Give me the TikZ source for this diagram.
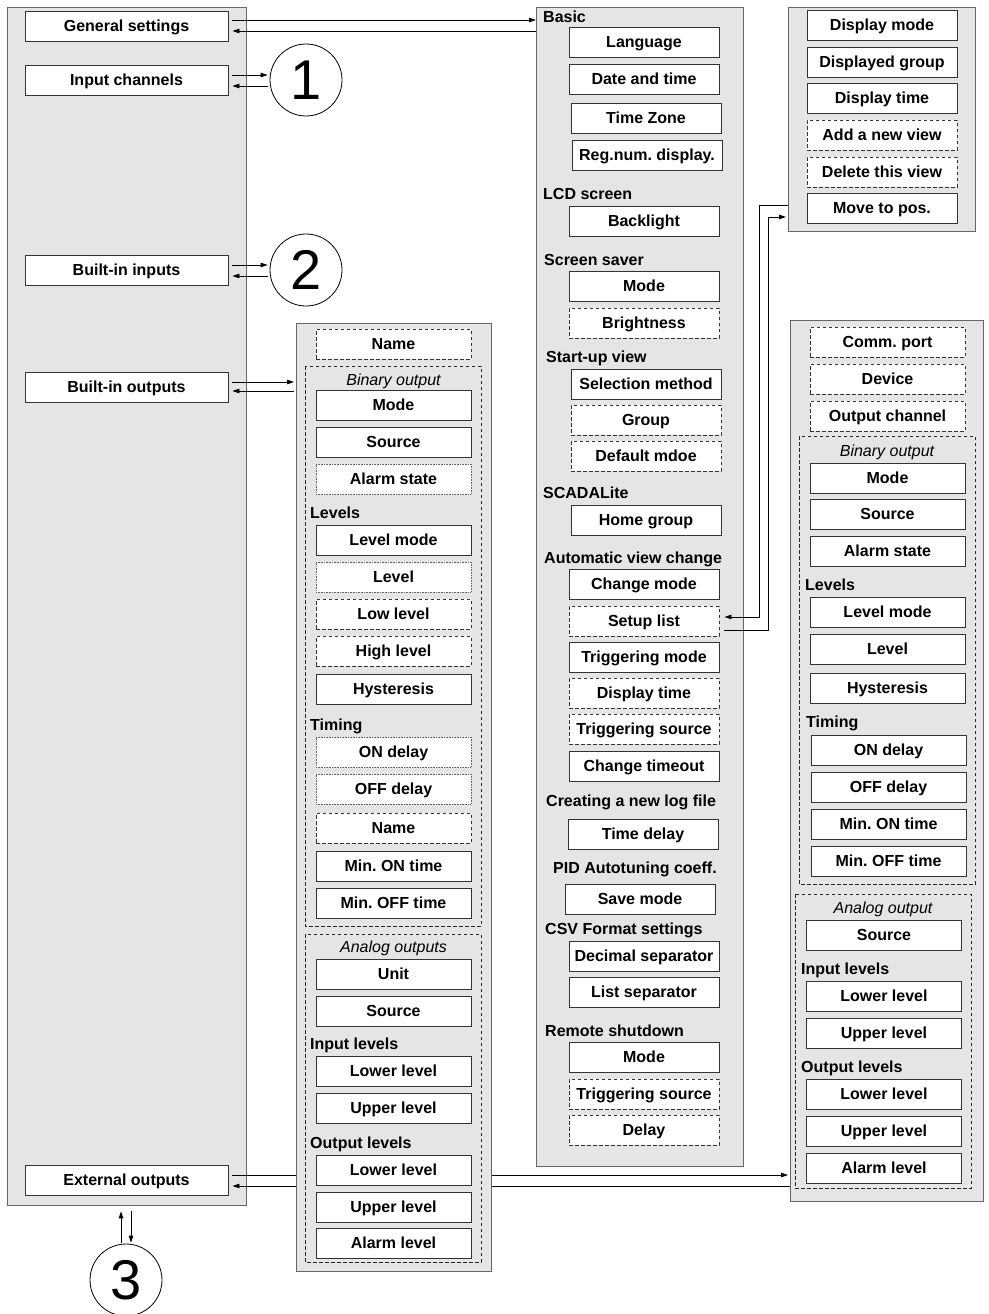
\documentclass[tikz,border=0pt]{standalone}
\usepackage{fontspec}
\setmainfont{Liberation Sans}
\frenchspacing
\usetikzlibrary{positioning,arrows.meta,calc}
\pgfdeclarelayer{back}
\pgfsetlayers{back,main}
\tikzset{
  lbl/.style={font=\fontsize{16}{19}\selectfont\bfseries,text height=11.6pt,text depth=0pt},
  box/.style={lbl,draw=black!80,line width=0.9pt,fill=white,minimum width=150pt,minimum height=30pt,inner sep=0pt},
  dbox/.style={box,dash pattern=on 3.5pt off 2.5pt},
  obox/.style={box,draw=black!60,dash pattern=on 0.8pt off 0.8pt},
  panel/.style={draw=black!60,line width=1.3pt,fill=black!10,anchor=north west,inner sep=0pt},
  grp/.style={draw=black!85,line width=0.7pt,dash pattern=on 3.5pt off 2.5pt},
  head/.style={lbl,anchor=west,inner sep=0pt},
  ghead/.style={font=\fontsize{16}{19}\selectfont\itshape,text height=11.6pt,text depth=0pt,inner sep=0pt},
  num/.style={draw,circle,line width=0.8pt,minimum size=72pt,inner sep=0pt,font=\fontsize{56}{60}\selectfont},
  arr/.style={-{Triangle[length=7pt,width=4.5pt]},line width=0.8pt}
}
\begin{document}
\begin{tikzpicture}[x=1pt,y=-1pt]
  \useasboundingbox (0,0) rectangle (988,1314);
  % main menu
  \begin{pgfonlayer}{back}
    \node[panel,minimum width=239pt,minimum height=1198pt] (left) at (7,7) {};
  \end{pgfonlayer}
  \node[box,minimum width=203pt] (gs) at (126.5,26) {General settings};
  \node[box,minimum width=203pt] (ic) at (126.5,80) {Input channels};
  \node[box,minimum width=203pt] (bi) at (126.5,270) {Built-in inputs};
  \node[box,minimum width=203pt] (bo) at (126.5,387) {Built-in outputs};
  \node[box,minimum width=203pt] (eo) at (126.5,1180) {External outputs};
  \node[num] (c1) at (306,80) {1};
  \node[num] (c2) at (306,270) {2};
  \node[num] (c3) at (126,1280) {3};
  % built-in outputs
  \node[panel,minimum width=195pt,minimum height=948pt] (outp) at (296,323) {};
  \draw[grp] (305,366) rectangle (481,926);
  \draw[grp] (305,934) rectangle (481,1262);
  \node[ghead] (ob) at (393.5,380) {Binary output};
  \node[ghead] (oa) at (393.5,947) {Analog outputs};
  \foreach \y/\t [count=\i] in {513/Levels,725/Timing,1044/Input levels,1143/Output levels}
    \node[head] (oh\i) at (310,\y) {\t};
  \foreach \y/\t/\s [count=\i] in {344/Name/dbox,405/Mode/box,442/Source/box,479/Alarm state/obox,
      540/Level mode/box,577/Level/obox,614/Low level/dbox,651/High level/dbox,689/Hysteresis/box,
      752/ON delay/obox,789/OFF delay/obox,828/Name/dbox,866/Min. ON time/box,903/Min. OFF time/box,
      974/Unit/box,1011/Source/box,1071/Lower level/box,1108/Upper level/box,
      1170/Lower level/box,1207/Upper level/box,1243/Alarm level/box}
    \node[\s,minimum width=155pt] (o\i) at (393.5,\y) {\t};
  % general settings
  \node[panel,minimum width=207pt,minimum height=1159pt] (gen) at (536,7) {};
  \foreach \x/\y/\t [count=\i] in {543/17/Basic,543/194/LCD screen,544/260/Screen saver,546/357/Start-up view,
      543/493/SCADALite,544/558/Automatic view change,546/801/Creating a new log file,
      553/868/PID Autotuning coeff.,545/929/CSV Format settings,545/1031/Remote shutdown}
    \node[head] (gh\i) at (\x,\y) {\t};
  \foreach \x/\y/\t/\s [count=\i] in {644/42/Language/box,644/79/Date and time/box,646/118/Time Zone/box,
      647/155/Reg.num. display./box,644/221/Backlight/box,644/286/Mode/box,644/323/Brightness/dbox,
      646/384/Selection method/box,646/420/Group/dbox,646/456/Default mdoe/dbox,646/520/Home group/box,
      644/584/Change mode/box,644/657/Triggering mode/box,644/693/Display time/dbox,
      644/729/Triggering source/dbox,644/766/Change timeout/box,643/834/Time delay/box,640/899/Save mode/box,
      644/956/Decimal separator/box,644/992/List separator/box,644/1057/Mode/box,
      644/1094/Triggering source/dbox,644/1130/Delay/dbox}
    \node[\s] (g\i) at (\x,\y) {\t};
  \node[dbox] (setup) at (644,621) {Setup list};
  % view
  \node[panel,minimum width=187pt,minimum height=224pt] (view) at (788,7) {};
  \foreach \y/\t/\s [count=\i] in {25/Display mode/box,62/Displayed group/box,98/Display time/box,
      135/Add a new view/dbox,172/Delete this view/dbox}
    \node[\s] (v\i) at (882,\y) {\t};
  \node[box] (mv) at (882,208) {Move to pos.};
  % external outputs
  \node[panel,minimum width=193pt,minimum height=881pt] (ext) at (790,320) {};
  \draw[grp] (799,436) rectangle (975,884);
  \draw[grp] (795,894) rectangle (971,1188);
  \node[ghead] (eb) at (887,451) {Binary output};
  \node[ghead] (ea) at (883,908) {Analog output};
  \foreach \x/\y/\t [count=\i] in {805/585/Levels,806/722/Timing,801/969/Input levels,801/1067/Output levels}
    \node[head] (eh\i) at (\x,\y) {\t};
  \foreach \x/\y/\t/\s [count=\i] in {887.5/342/Comm. port/dbox,887.5/379/Device/dbox,887.5/416/Output channel/dbox,
      887.5/478/Mode/box,887.5/514/Source/box,887.5/551/Alarm state/box,887.5/612/Level mode/box,
      887.5/649/Level/box,887.5/688/Hysteresis/box,888.5/750/ON delay/box,888.5/787/OFF delay/box,
      888.5/824/Min. ON time/box,888.5/861/Min. OFF time/box,884/935/Source/box,884/996/Lower level/box,
      884/1033/Upper level/box,884/1094/Lower level/box,884/1131/Upper level/box,884/1168/Alarm level/box}
    \node[\s,minimum width=155pt] (e\i) at (\x,\y) {\t};
  % connectors
  \draw[arr] ($(gs.east)+(4,-6)$) -- ($(gs.east-|gen.west)+(0,-6)$);
  \draw[arr] ($(gs.east-|gen.west)+(0,5)$) -- ($(gs.east)+(4,5)$);
  \draw[arr] ($(ic.east)+(4,-5)$) -- ($(ic.east-|c1.west)+(-2,-5)$);
  \draw[arr] ($(ic.east-|c1.west)+(-2,6)$) -- ($(ic.east)+(4,6)$);
  \draw[arr] ($(bi.east)+(4,-5)$) -- ($(bi.east-|c2.west)+(-2,-5)$);
  \draw[arr] ($(bi.east-|c2.west)+(-2,6)$) -- ($(bi.east)+(4,6)$);
  \draw[arr] ($(bo.east)+(4,-5)$) -- ($(bo.east-|outp.west)+(-2,-5)$);
  \draw[arr] ($(bo.east-|outp.west)+(-2,4)$) -- ($(bo.east)+(4,4)$);
  \begin{pgfonlayer}{back}
    \draw[arr] ($(eo.east)+(4,-5)$) -- ($(eo.east-|ext.west)+(-2,-5)$);
    \draw[arr] ($(eo.east-|ext.west)+(0,6)$) -- ($(eo.east)+(4,6)$);
  \end{pgfonlayer}
  \draw[arr] ($(mv.west-|view.west)+(0,-3)$) -| ($(setup.east)+(40,-4)$) -- ($(setup.east)+(5,-4)$);
  \draw[arr] ($(setup.east)+(5,9)$) -- ($(setup.east)+(49,9)$) |- ($(mv.west-|view.west)+(-2,9)$);
  \draw[arr] ($(c3.north)+(-5,-1)$) -- ($(c3.north|-left.south)+(-5,5)$);
  \draw[arr] ($(c3.north|-left.south)+(5,5)$) -- ($(c3.north)+(5,-1)$);
\end{tikzpicture}
\end{document}
